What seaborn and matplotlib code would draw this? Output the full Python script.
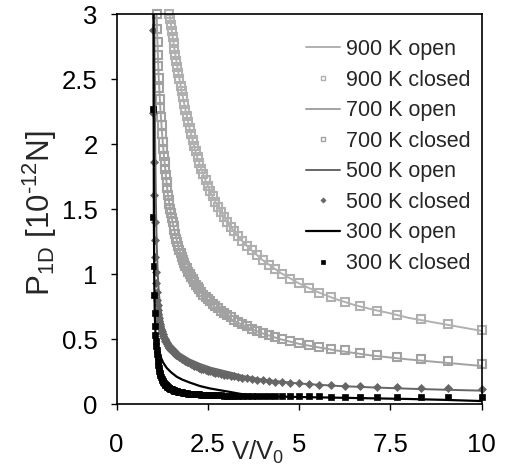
import matplotlib
matplotlib.use("Agg")
import matplotlib.pyplot as plt
from matplotlib.lines import Line2D
import seaborn as sns

# ---------------- data ----------------
# closed-system points: V/V0 positions (shared grid)
v_closed = [10.0, 9.091, 8.333, 7.692, 7.143, 6.667, 6.25, 5.882, 5.556, 5.263,
            5.0, 4.762, 4.545, 4.348, 4.167, 4.0, 3.846, 3.704, 3.571, 3.448,
            3.333, 3.226, 3.125, 3.03, 2.941, 2.857, 2.778, 2.703, 2.632, 2.564,
            2.5, 2.439, 2.381, 2.326, 2.273, 2.222, 2.174, 2.128, 2.083, 2.041,
            2.0, 1.961, 1.923, 1.887, 1.852, 1.818, 1.786, 1.754, 1.724, 1.695,
            1.667, 1.639, 1.613, 1.587, 1.563, 1.538, 1.515, 1.493, 1.471, 1.449,
            1.429, 1.408, 1.389, 1.37, 1.351, 1.333, 1.316, 1.299, 1.282, 1.266,
            1.25, 1.235, 1.22, 1.205, 1.19, 1.176, 1.163, 1.149, 1.136, 1.124,
            1.111, 1.099, 1.087, 1.075, 1.064, 1.053, 1.042, 1.031, 1.02, 1.01, 1.0]

p900_closed = [0.571, 0.616, 0.653, 0.689, 0.721, 0.755, 0.789, 0.823, 0.859, 0.895,
               0.930, 0.966, 1.001, 1.037, 1.075, 1.113, 1.149, 1.185, 1.221, 1.256,
               1.293, 1.330, 1.366, 1.403, 1.442, 1.481, 1.519, 1.558, 1.600, 1.638,
               1.680, 1.722, 1.768, 1.810, 1.857, 1.899, 1.946, 1.988, 2.035, 2.078,
               2.125, 2.173, 2.220, 2.263, 2.311, 2.360, 2.408, 2.451, 2.500, 2.549,
               2.592, 2.641, 2.685, 2.734, 2.778, 2.828, 2.871, 2.921, 2.965, 3.0]

p700_closed = [0.313, 0.330, 0.346, 0.363, 0.379, 0.398, 0.414, 0.428, 0.443, 0.458,
               0.472, 0.487, 0.502, 0.518, 0.533, 0.550, 0.567, 0.583, 0.599, 0.618,
               0.633, 0.651, 0.669, 0.686, 0.704, 0.721, 0.738, 0.755, 0.771, 0.792,
               0.808, 0.828, 0.844, 0.864, 0.884, 0.900, 0.920, 0.940, 0.960, 0.980,
               1.00, 1.02, 1.045, 1.065, 1.09, 1.11, 1.135, 1.165, 1.19, 1.22,
               1.245, 1.275, 1.31, 1.34, 1.37, 1.40, 1.43, 1.47, 1.50, 1.54,
               1.57, 1.61, 1.66, 1.71, 1.76, 1.81, 1.86, 1.91, 1.96, 2.02,
               2.08, 2.15, 2.21, 2.28, 2.35, 2.43, 2.51, 2.60, 2.69, 2.79,
               2.89, 3.0]

p500_closed = [0.118, 0.123, 0.127, 0.130, 0.134, 0.138, 0.142, 0.147, 0.151, 0.155,
               0.160, 0.164, 0.168, 0.173, 0.178, 0.184, 0.189, 0.194, 0.199, 0.204,
               0.209, 0.214, 0.219, 0.224, 0.229, 0.234, 0.239, 0.244, 0.249, 0.254,
               0.259, 0.264, 0.269, 0.274, 0.280, 0.286, 0.292, 0.298, 0.304, 0.310,
               0.316, 0.322, 0.328, 0.334, 0.340, 0.346, 0.352, 0.358, 0.364, 0.370,
               0.376, 0.382, 0.388, 0.394, 0.400, 0.407, 0.414, 0.421, 0.428, 0.436,
               0.444, 0.452, 0.461, 0.470, 0.480, 0.490, 0.501, 0.512, 0.524, 0.537,
               0.551, 0.566, 0.582, 0.600, 0.620, 0.642, 0.667, 0.695, 0.727, 0.763,
               0.80, 0.86, 0.93, 1.02, 1.13, 1.26, 1.40, 1.61, 1.86, 2.24, 2.88]

p300_closed = [0.054, 0.055, 0.056, 0.057, 0.058, 0.058, 0.059, 0.059, 0.060, 0.060,
               0.060, 0.061, 0.061, 0.061, 0.062, 0.062, 0.063, 0.063, 0.064, 0.064,
               0.065, 0.065, 0.066, 0.067, 0.067, 0.068, 0.069, 0.069, 0.070, 0.071,
               0.072, 0.073, 0.074, 0.075, 0.076, 0.077, 0.078, 0.079, 0.080, 0.081,
               0.082, 0.083, 0.085, 0.086, 0.088, 0.089, 0.091, 0.093, 0.095, 0.097,
               0.099, 0.101, 0.103, 0.106, 0.108, 0.111, 0.114, 0.117, 0.120, 0.124,
               0.128, 0.132, 0.136, 0.141, 0.146, 0.151, 0.157, 0.163, 0.170, 0.178,
               0.187, 0.197, 0.209, 0.222, 0.237, 0.255, 0.276, 0.30, 0.33, 0.36,
               0.39, 0.42, 0.45, 0.49, 0.53, 0.60, 0.70, 0.84, 1.06, 1.44, 2.27]

# open-system curves
v900_open = [1.40, 1.45, 1.5, 1.6, 1.7, 1.8, 1.9, 2.0, 2.2, 2.4, 2.6, 2.8, 3.0, 3.3,
             3.6, 4.0, 4.5, 5.0, 5.5, 6.0, 6.5, 7.0, 7.5, 8.0, 8.5, 9.0, 9.5, 10.0]
p900_open = [3.12, 3.01, 2.90, 2.71, 2.54, 2.39, 2.25, 2.125, 1.91, 1.75, 1.615, 1.51,
             1.415, 1.30, 1.21, 1.11, 1.01, 0.93, 0.865, 0.81, 0.765, 0.73, 0.70,
             0.665, 0.64, 0.615, 0.59, 0.565]

v700_open = [1.08, 1.10, 1.12, 1.15, 1.2, 1.25, 1.3, 1.4, 1.5, 1.6, 1.7, 1.8, 2.0,
             2.2, 2.5, 2.8, 3.2, 3.6, 4.0, 4.5, 5.0, 5.5, 6.0, 7.0, 8.0, 9.0, 10.0]
p700_open = [3.2, 3.0, 2.80, 2.55, 2.28, 2.08, 1.91, 1.63, 1.45, 1.32, 1.21, 1.11,
             0.99, 0.905, 0.80, 0.72, 0.645, 0.59, 0.545, 0.50, 0.465, 0.44, 0.415,
             0.375, 0.345, 0.32, 0.295]

v500_open = [1.035, 1.045, 1.06, 1.08, 1.10, 1.13, 1.16, 1.19, 1.25, 1.3, 1.375, 1.5,
             1.74, 2.0, 2.29, 2.6, 3.11, 3.5, 4.0, 5.0, 6.0, 7.0, 8.0, 9.0, 10.0]
p500_open = [3.1, 2.5, 2.0, 1.55, 1.25, 1.0, 0.86, 0.77, 0.65, 0.58, 0.52, 0.46,
             0.39, 0.345, 0.31, 0.28, 0.245, 0.215, 0.19, 0.16, 0.142, 0.13, 0.12,
             0.112, 0.105]

v300_open = [1.012, 1.018, 1.025, 1.035, 1.05, 1.07, 1.10, 1.14, 1.2, 1.28, 1.375,
             1.5, 1.65, 1.8, 2.0, 2.29, 2.56, 2.84, 3.11, 3.4, 3.7, 4.0, 5.0, 6.0,
             7.0, 8.0, 9.0, 10.0]
p300_open = [3.1, 2.2, 1.4, 0.95, 0.68, 0.53, 0.46, 0.42, 0.37, 0.32, 0.28, 0.245,
             0.212, 0.19, 0.168, 0.14, 0.122, 0.108, 0.095, 0.08, 0.068, 0.062,
             0.056, 0.051, 0.046, 0.041, 0.034, 0.025]

x_ticks = [0, 2.5, 5, 7.5, 10]
x_ticklabels = ["0", "2.5", "5", "7.5", "10"]
y_ticks = [0, 0.5, 1, 1.5, 2, 2.5, 3]
y_ticklabels = ["0", "0.5", "1", "1.5", "2", "2.5", "3"]

labels = ["900 K open", "900 K closed", "700 K open", "700 K closed",
          "500 K open", "500 K closed", "300 K open", "300 K closed"]

# ---------------- style ----------------
sns.set_theme(style="white")
plt.rcParams["font.family"] = ["Liberation Sans", "DejaVu Sans"]
plt.rcParams["mathtext.default"] = "regular"

c900 = "#b0b0b0"
c700 = "#a2a2a2"
c500 = "#666666"
c300 = "#000000"

fig = plt.figure(figsize=(5.05, 4.72), dpi=100)
ax = fig.add_axes([116.5 / 505, 1 - 404.3 / 472, 365 / 505, 390 / 472])

def closed(v, p, marker, color, hollow, ms, mew):
    sns.lineplot(x=v[:len(p)], y=p, ax=ax, estimator=None, sort=False,
                 linestyle="", marker=marker, markersize=ms,
                 markerfacecolor="none" if hollow else color,
                 markeredgecolor=color, markeredgewidth=mew,
                 color=color, clip_on=False, legend=False)

def opened(v, p, color, lw):
    sns.lineplot(x=v, y=p, ax=ax, estimator=None, sort=False, color=color,
                 linewidth=lw, legend=False)

closed(v_closed, p900_closed, "s", c900, True, 5.3, 1.5)
closed(v_closed, p700_closed, "s", c700, True, 5.3, 1.5)
closed(v_closed, p500_closed, "D", c500, False, 3.6, 0.5)
closed(v_closed, p300_closed, "s", c300, False, 4.3, 0.5)

opened(v900_open, p900_open, c900, 1.4)
opened(v700_open, p700_open, c700, 1.4)
opened(v500_open, p500_open, c500, 1.4)
opened(v300_open, p300_open, c300, 1.6)

ax.set_xlim(0, 10)
ax.set_ylim(0, 3)
ax.set_xticks(x_ticks)
ax.set_xticklabels(x_ticklabels)
ax.set_yticks(y_ticks)
ax.set_yticklabels(y_ticklabels)
ax.set_xlabel("")
ax.set_ylabel("")
ax.tick_params(axis="both", direction="out", length=4.5, width=1.0,
               colors="black", labelsize=18.5, left=True, bottom=True,
               top=False, right=False)
ax.tick_params(axis="x", pad=16)
ax.tick_params(axis="y", pad=9)
for s in ax.spines.values():
    s.set_visible(True)
    s.set_color("black")
    s.set_linewidth(1.2)

fig.text(258 / 505, 1 - 452 / 472, r"V/V$_0$", ha="center", va="center",
         fontsize=18.5)
fig.text(40 / 505, 1 - 213 / 472, "P$_{1D}$ [10$^{\u201012}$N]", ha="center",
         va="center", rotation=90, fontsize=22.5)

handles = [
    Line2D([], [], color=c900, lw=1.4),
    Line2D([], [], linestyle="", marker="s", ms=3.5, mfc="none", mec=c900, mew=1.0),
    Line2D([], [], color=c700, lw=1.4),
    Line2D([], [], linestyle="", marker="s", ms=3.5, mfc="none", mec=c700, mew=1.0),
    Line2D([], [], color=c500, lw=1.4),
    Line2D([], [], linestyle="", marker="D", ms=2.6, mfc=c500, mec=c500, mew=0.5),
    Line2D([], [], color=c300, lw=1.6),
    Line2D([], [], linestyle="", marker="s", ms=3.4, mfc=c300, mec=c300, mew=0.5),
]
ax.legend(handles, labels, loc="upper left", bbox_to_anchor=(306 / 505, 1 - 39 / 472),
          bbox_transform=fig.transFigure, frameon=False, fontsize=15.5,
          handlelength=1.6, handletextpad=0.25, labelspacing=0.445, borderpad=0,
          borderaxespad=0)

fig.savefig("out.png", dpi=100)
